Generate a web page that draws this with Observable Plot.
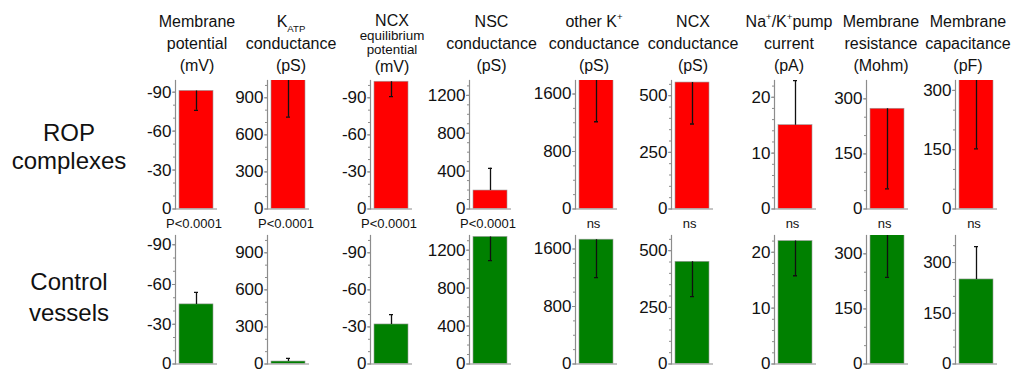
<!DOCTYPE html>
<html><head><meta charset="utf-8">
<script src="https://cdn.jsdelivr.net/npm/d3@7"></script>
<script src="https://cdn.jsdelivr.net/npm/@observablehq/plot@0.6"></script>
<style>
html,body{margin:0;padding:0;background:#fff;}
#chart{position:relative;width:1017px;height:373px;overflow:hidden;background:#fff;}
#chart svg{position:absolute;}
</style></head>
<body><div id="chart"></div>
<script>
// ---- data ----
const measures = ["Membrane potential","KATP conductance","NCX equilibrium potential","NSC conductance","other K+ conductance","NCX conductance","Na+/K+ pump current","Membrane resistance","Membrane capacitance"];
const headerLines = [
  ["Membrane","potential","(mV)"],
  ["K_{ATP}","conductance","(pS)"],
  ["NCX","equilibrium","potential","(mV)"],
  ["NSC","conductance","(pS)"],
  ["other K^{+}","conductance","(pS)"],
  ["NCX","conductance","(pS)"],
  ["Na^{+}/K^{+}pump","current","(pA)"],
  ["Membrane","resistance","(Mohm)"],
  ["Membrane","capacitance","(pF)"]
];
const groups = ["ROP complexes","Control vessels"];
const groupLines = [["ROP","complexes"],["Control","vessels"]];
const ropMean = [-91, 1080, -103, 195, 1800, 558, 15, 273, 330];
const ropErrEnd = [-76, 743, -91, 430, 1214, 375, 23, 55, 152];
const ctrlMean = [-45, 20, -32, 1340, 1730, 451, 22, 355, 250];
const ctrlErrEnd = [-54, 45, -40, 1090, 1203, 297, 15.8, 236, 347];
const pLabels = ["P<0.0001","P<0.0001","P<0.0001","P<0.0001","ns","ns","ns","ns","ns"];
const majorTicks = [[-90,-60,-30,0],[0,300,600,900],[-90,-60,-30,0],[0,400,800,1200],[0,800,1600],[0,250,500],[0,10,20],[0,150,300],[0,150,300]];
const minorStep = [10, 100, 10, 100, 200, 50, 2, 50, 50];
const ropDomainTop = [-99, 1040, -104, 1357, 1788, 567, 23, 350, 325];
const ctrlDomainTop = [-97, 1040, -104, 1355, 1788, 567, 23, 350, 380];

// ---- layout ----
const FONT = '"Liberation Sans", Arial, Helvetica, sans-serif';
const axisX = [175, 267, 370, 469, 574.5, 670.7, 773.5, 865.7, 955];
const rowTop = [80, 235];
const plotH = 128.5;
const ML = 45, MR = 4, MT = 5, MB = 9, PW = 42;
const colors = ["#ff0000", "#008000"];
const gray = "#8c8c8c";

const chart = document.getElementById("chart");

function panel(i, r) {
  const cat = measures[i];
  const mean = r === 0 ? ropMean[i] : ctrlMean[i];
  const err = r === 0 ? ropErrEnd[i] : ctrlErrEnd[i];
  const top = r === 0 ? ropDomainTop[i] : ctrlDomainTop[i];
  const data = [{cat, group: groups[r], mean, err}];
  const minor = d3.range(0, top, top < 0 ? -minorStep[i] : minorStep[i]);
  const p = Plot.plot({
    width: ML + PW + MR, height: MT + plotH + MB,
    marginLeft: ML, marginRight: MR, marginTop: MT, marginBottom: MB,
    style: {fontFamily: FONT, fontSize: "17px", color: "#111", background: "none", overflow: "visible"},
    x: {type: "band", domain: [cat], padding: 0, axis: null},
    y: {domain: [0, top], axis: null},
    marks: [
      Plot.barY(data, {x: "cat", y: "mean", fill: colors[r], stroke: "#9a9a9a", strokeWidth: 0.6, insetLeft: 4, insetRight: 4, clip: true}),
      Plot.ruleX(data, {x: "cat", y1: "mean", y2: "err", stroke: "#111", strokeWidth: 1.3, clip: true}),
      Plot.tickY(data, {x: "cat", y: "err", stroke: "#111", strokeWidth: 1.3, insetLeft: 19, insetRight: 19, clip: true}),
      Plot.ruleY([0], {stroke: gray, strokeWidth: 1.2}),
      Plot.frame({anchor: "left", stroke: gray, strokeWidth: 1.2}),
      Plot.axisY({ticks: minor, tickSize: 2, fill: "none", stroke: gray, label: null}),
      Plot.axisY({ticks: majorTicks[i], tickSize: 3, tickPadding: 1, tickFormat: d => String(d), stroke: gray, fill: "#111", label: null, fontSize: 17})
    ]
  });
  p.style.left = (axisX[i] - ML) + "px";
  p.style.top = (rowTop[r] - MT) + "px";
  chart.appendChild(p);
}

for (let r = 0; r < 2; r++) for (let i = 0; i < measures.length; i++) panel(i, r);

// ---- text overlay ----
const svg = d3.select(chart).append("svg")
  .attr("width", 1017).attr("height", 373)
  .style("left", "0px").style("top", "0px")
  .style("font-family", FONT).attr("fill", "#111");

function rich(textSel, str, size) {
  const parts = str.split(/([_^]\{[^}]*\})/).filter(s => s.length);
  let shift = 0;
  parts.forEach(part => {
    const m = part.match(/^([_^])\{([^}]*)\}$/);
    const target = m ? (m[1] === "_" ? 5 : -6.5) : 0;
    const t = textSel.append("tspan").attr("dy", target - shift).text(m ? m[2] : part);
    if (m) t.attr("font-size", size * 0.6);
    shift = target;
  });
}

const headerX = [197, 291, 392, 491.5, 594, 693, 789, 881, 968];
headerLines.forEach((lines, i) => {
  const base = lines.length === 3 ? [26.7, 48.5, 71] : [26.3, 40.2, 54.4, 72];
  const sizes = lines.length === 3 ? [16, 16, 16] : [16, 13.4, 13.4, 16];
  lines.forEach((ln, j) => {
    const t = svg.append("text").attr("x", headerX[i]).attr("y", base[j])
      .attr("text-anchor", "middle").attr("font-size", sizes[j]);
    rich(t, ln, sizes[j]);
  });
});

// p-values between rows
pLabels.forEach((lab, i) => {
  svg.append("text").attr("x", axisX[i] + 21 - 2).attr("y", 228)
    .attr("text-anchor", "middle").attr("font-size", 13).text(lab);
});

// row labels
const rowBase = [[141, 169], [290, 321]];
groupLines.forEach((lines, r) => {
  lines.forEach((ln, j) => {
    svg.append("text").attr("x", 69).attr("y", rowBase[r][j])
      .attr("text-anchor", "middle").attr("font-size", 24).text(ln);
  });
});
</script>
</body></html>
